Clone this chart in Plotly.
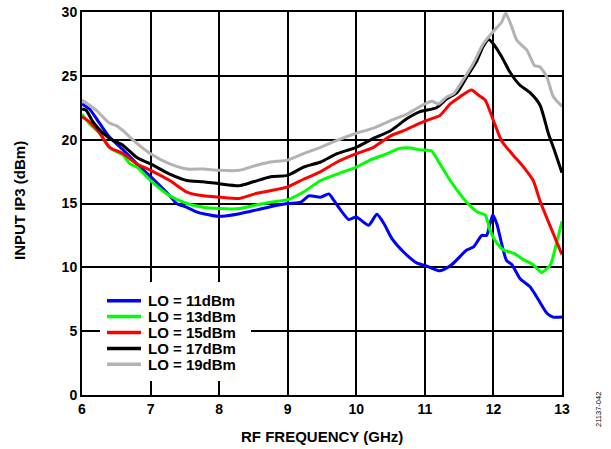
import plotly.graph_objects as go

# LO = 11 dBm
x11 = [6.0, 6.11, 6.26, 6.4, 6.6, 6.8, 7.0, 7.28, 7.38, 7.53, 7.67, 7.77, 8.0, 8.3, 8.55, 8.75, 9.0, 9.19, 9.31, 9.48, 9.6, 9.67,
       9.89, 10.0, 10.18, 10.3, 10.4, 10.52, 10.69, 10.88, 11.03, 11.22, 11.39, 11.61, 11.71, 11.83, 11.9, 11.95, 11.99,
       12.05, 12.12, 12.19, 12.27, 12.39, 12.53, 12.63, 12.78, 12.87, 13.0]
y11 = [22.8, 22.4, 21.25, 20.2, 19.2, 18.1, 17.1, 15.6, 15.0, 14.7, 14.35, 14.2, 14.0, 14.2, 14.5, 14.75, 15.0, 15.1, 15.6, 15.5, 15.75, 15.26,
       13.75, 13.95, 13.3, 14.15, 13.45, 12.25, 11.2, 10.35, 10.1, 9.73, 10.2, 11.35, 11.6, 12.5, 12.5, 13.4, 14.1,
       13.4, 11.85, 10.55, 10.2, 9.1, 8.5, 7.7, 6.4, 6.1, 6.1]

# LO = 13 dBm
x13 = [6.0, 6.11, 6.26, 6.36, 6.45, 6.6, 6.7, 6.8, 7.0, 7.28, 7.53, 7.77, 8.0, 8.3, 8.55, 8.75, 9.0, 9.23, 9.48, 9.72,
       10.0, 10.2, 10.45, 10.62, 10.79, 10.93, 11.1, 11.22, 11.37, 11.51, 11.61, 11.76, 11.88, 11.95, 12.05, 12.15, 12.3,
       12.44, 12.58, 12.7, 12.83, 12.92, 13.0]
y13 = [22.0, 21.25, 20.5, 19.7, 19.2, 18.8, 18.1, 17.85, 16.8, 15.6, 15.0, 14.7, 14.6, 14.6, 14.9, 15.1, 15.3, 15.9, 16.8, 17.3,
       17.85, 18.4, 18.9, 19.3, 19.35, 19.2, 19.1, 18.1, 16.8, 15.75, 15.1, 14.35, 14.1, 12.9, 11.9, 11.35, 11.1,
       10.6, 10.2, 9.6, 10.2, 11.9, 13.6]

# LO = 15 dBm
x15 = [6.0, 6.11, 6.26, 6.4, 6.6, 6.8, 7.0, 7.28, 7.53, 7.77, 8.0, 8.3, 8.55, 8.75, 9.0, 9.23, 9.48, 9.72,
       10.0, 10.25, 10.5, 10.69, 10.93, 11.1, 11.22, 11.37, 11.51, 11.68, 11.78, 11.88, 12.0, 12.12, 12.27, 12.44,
       12.58, 12.68, 12.83, 13.0]
y15 = [21.8, 21.4, 20.5, 19.4, 18.9, 18.1, 17.6, 16.8, 15.9, 15.6, 15.5, 15.4, 15.8, 16.0, 16.3, 16.9, 17.5, 18.25,
       18.9, 19.4, 20.3, 20.7, 21.3, 21.65, 21.9, 22.8, 23.35, 23.9, 23.5, 23.1, 21.5, 19.9, 18.9, 17.85,
       16.8, 15.2, 13.2, 11.0]

# LO = 17 dBm
x17 = [6.0, 6.06, 6.16, 6.31, 6.45, 6.6, 6.8, 7.0, 7.28, 7.53, 7.77, 8.0, 8.3, 8.5, 8.75, 9.0, 9.23, 9.48, 9.72,
       10.0, 10.25, 10.5, 10.74, 10.93, 11.17, 11.32, 11.47, 11.61, 11.76, 11.85, 11.93, 12.0, 12.12, 12.24, 12.38,
       12.53, 12.68, 12.8, 12.9, 13.0]
y17 = [22.4, 22.3, 21.4, 20.5, 19.95, 19.55, 18.6, 18.1, 17.3, 16.8, 16.7, 16.55, 16.4, 16.7, 17.1, 17.2, 17.85, 18.25, 18.9,
       19.4, 20.1, 20.7, 21.65, 22.2, 22.5, 23.2, 23.7, 24.9, 26.2, 27.3, 27.85, 27.5, 26.5, 25.3, 24.3,
       23.7, 22.7, 20.5, 19.0, 17.4]

# LO = 19 dBm
x19 = [6.0, 6.21, 6.4, 6.5, 6.6, 6.75, 7.0, 7.28, 7.53, 7.77, 8.0, 8.3, 8.55, 8.75, 9.0, 9.23, 9.48, 9.72,
       10.0, 10.25, 10.5, 10.74, 10.93, 11.1, 11.2, 11.32, 11.42, 11.56, 11.71, 11.85, 12.0, 12.12, 12.18, 12.27,
       12.34, 12.49, 12.6, 12.68, 12.78, 12.87, 13.0]
y19 = [23.1, 22.3, 21.3, 21.1, 20.7, 19.95, 18.9, 18.1, 17.7, 17.7, 17.6, 17.6, 18.0, 18.25, 18.4, 18.9, 19.4, 19.95,
       20.5, 20.9, 21.5, 22.0, 22.6, 23.0, 22.8, 23.35, 23.6, 24.7, 26.0, 27.5, 28.5, 29.2, 29.9, 28.8,
       27.8, 27.0, 25.8, 25.7, 24.9, 23.4, 22.6]

series_names = ["LO = 11dBm", "LO = 13dBm", "LO = 15dBm", "LO = 17dBm", "LO = 19dBm"]
series_x = [x11, x13, x15, x17, x19]
series_y = [y11, y13, y15, y17, y19]
series_colors = ["#0000FF", "#00FF00", "#FF0000", "#000000", "#B3B3B3"]

x_ticks = [6, 7, 8, 9, 10, 11, 12, 13]
y_ticks = [0, 5, 10, 15, 20, 25, 30]

font_family = "Arial, Liberation Sans, sans-serif"

fig = go.Figure()
for name, xs, ys, col in zip(series_names, series_x, series_y, series_colors):
    fig.add_trace(go.Scatter(x=xs, y=ys, mode="lines", name=name, showlegend=False,
                             line=dict(color=col, width=3, shape="spline", smoothing=0.6)))

# plot area geometry (pixels) for legend / title placement
L, R, T, B = 82, 49, 12, 54
W, H = 611, 449
pw, ph = W - L - R, H - T - B

def px_to_paper_x(px):
    return (px - L) / pw

def py_to_paper_y(py):
    return (H - B - py) / ph

# hand-drawn legend box (white background interrupting the grid)
shapes = [dict(type="rect", xref="paper", yref="paper",
               x0=px_to_paper_x(100), x1=px_to_paper_x(251),
               y0=py_to_paper_y(381), y1=py_to_paper_y(282),
               fillcolor="white", line=dict(width=0), layer="above")]
annotations = []
row0, row_step = 300.7, 15.9
for i, (name, col) in enumerate(zip(series_names, series_colors)):
    yy = py_to_paper_y(row0 + i * row_step)
    shapes.append(dict(type="line", xref="paper", yref="paper",
                       x0=px_to_paper_x(107), x1=px_to_paper_x(141), y0=yy, y1=yy,
                       line=dict(color=col, width=3.5), layer="above"))
    annotations.append(dict(text=name, xref="paper", yref="paper",
                            x=px_to_paper_x(146), y=yy, xanchor="left", yanchor="middle",
                            showarrow=False,
                            font=dict(size=15, family=font_family, color="black", weight="bold")))

# axis titles
annotations.append(dict(text="RF FREQUENCY (GHz)", xref="paper", yref="paper",
                        x=px_to_paper_x(321.5), y=py_to_paper_y(436), xanchor="center", yanchor="middle",
                        showarrow=False,
                        font=dict(size=15, family=font_family, color="black", weight="bold")))
annotations.append(dict(text="INPUT IP3 (dBm)", xref="paper", yref="paper",
                        x=px_to_paper_x(19), y=py_to_paper_y(201), xanchor="center", yanchor="middle",
                        textangle=-90, showarrow=False,
                        font=dict(size=15, family=font_family, color="black", weight="bold")))
annotations.append(dict(text="21137-042", xref="paper", yref="paper",
                        x=px_to_paper_x(598), y=py_to_paper_y(410), xanchor="center", yanchor="middle",
                        textangle=-90, showarrow=False,
                        font=dict(size=7.5, family=font_family, color="black")))

fig.update_layout(
    width=W, height=H,
    margin=dict(l=L, r=R, t=T, b=B, autoexpand=False),
    paper_bgcolor="white", plot_bgcolor="white",
    font=dict(family=font_family, color="black"),
    showlegend=False,
    shapes=shapes,
    annotations=annotations,
    xaxis=dict(range=[6, 13], tickmode="array", tickvals=x_ticks, ticktext=[str(v) for v in x_ticks],
               showgrid=True, gridcolor="#000000", gridwidth=1.5, automargin=False,
               showline=True, linecolor="black", linewidth=2, mirror=True,
               zeroline=False, ticks="", layer="below traces",
               tickfont=dict(size=14, family=font_family, weight="bold")),
    yaxis=dict(range=[0, 30], tickmode="array", tickvals=y_ticks, ticktext=[str(v) for v in y_ticks],
               showgrid=True, gridcolor="#000000", gridwidth=1.5, automargin=False,
               showline=True, linecolor="black", linewidth=2, mirror=True,
               zeroline=False, ticks="", layer="below traces",
               tickfont=dict(size=14, family=font_family, weight="bold")),
)

fig.write_html("out.html", config={"displayModeBar": False},
               post_script="document.body.style.margin='0px';")
